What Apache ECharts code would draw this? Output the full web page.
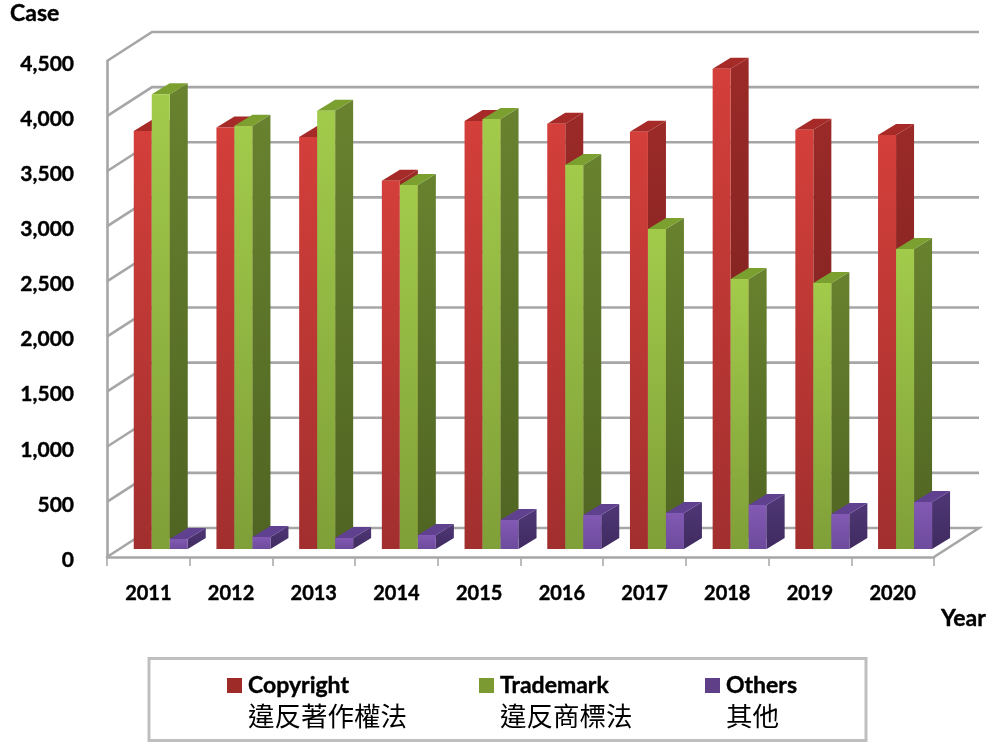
<!DOCTYPE html>
<html><head><meta charset="utf-8">
<style>html,body{margin:0;padding:0;background:#fff}#c{width:990px;height:742px}</style>
<script src="https://cdn.jsdelivr.net/npm/echarts@6/dist/echarts.min.js"></script>
</head><body><div id="c"></div>
<script>
const years = ['2011','2012','2013','2014','2015','2016','2017','2018','2019','2020'];
const copyright = [3793,3823,3738,3340,3884,3857,3785,4356,3803,3757];
const trademark = [4125,3841,3975,3303,3902,3485,2904,2450,2414,2722];
const others = [90,109,100,127,263,308,327,399,318,426];
const yTicks = [0,500,1000,1500,2000,2500,3000,3500,4000,4500];
const names = ['Copyright','Trademark','Others'];
const zhNames = ['違反著作權法','違反商標法','其他'];
const legendLefts = [227,479,705];

const FONT = 'Lato, "Noto Sans", sans-serif';
const CJK = '"Noto Sans CJK TC", sans-serif';
const WALL = [45,-29], BAR_DEPTH = [18,-11], BAR_INSET = [12.4,-8], BAR_W = 18;
const GRID = '#a6a6a6';
const HEAVY = {textBorderColor:'#000',textBorderWidth:0.4};
const grad = (a,b)=>({type:'linear',x:0,y:0,x2:0,y2:1,colorStops:[{offset:0,color:a},{offset:1,color:b}]});

function wallItem(params, api){
  const cs = params.coordSys, v = api.value(1);
  const y = api.coord([0,v])[1], x = cs.x, r = cs.x+cs.width;
  const pts = [[x,y],[x+WALL[0],y+WALL[1]],[r+WALL[0],y+WALL[1]]];
  if (v===0) pts.push([r,y]);
  return {type:'polyline',shape:{points:pts},style:{fill:null,stroke:GRID,lineWidth:2.6}};
}
function barSeries(name,vals,slot,col){
  return {
    name, type:'custom', coordinateSystem:'cartesian2d', data:vals.map((v,i)=>[i,v]),
    encode:{x:0,y:1}, itemStyle:{color:col.legend}, z:3,
    renderItem(params,api){
      const c = api.coord([api.value(0),api.value(1)]);
      const base = api.coord([api.value(0),0]);
      const xl = c[0]+BAR_INSET[0]+(slot-1.5)*BAR_W, xr = xl+BAR_W;
      const yt = c[1]+BAR_INSET[1], yb = base[1]+BAR_INSET[1];
      const dx = BAR_DEPTH[0], dy = BAR_DEPTH[1];
      return {type:'group',children:[
        {type:'polygon',shape:{points:[[xr,yt],[xr+dx,yt+dy],[xr+dx,yb+dy],[xr,yb]]},style:{fill:grad(col.side[0],col.side[1])}},
        {type:'polygon',shape:{points:[[xl,yt],[xl+dx,yt+dy],[xr+dx,yt+dy],[xr,yt]]},style:{fill:col.top}},
        {type:'rect',shape:{x:xl,y:yt,width:BAR_W,height:yb-yt},style:{fill:grad(col.front[0],col.front[1])}}
      ]};
    }
  };
}
const rich = {
  a:Object.assign({fontFamily:FONT,fontWeight:'bold',fontSize:23,color:'#000',height:30,align:'left'},HEAVY),
  b:{fontFamily:CJK,fontSize:26.5,color:'#000',height:30,align:'left'}
};
const chart = echarts.init(document.getElementById('c'),null,{renderer:'canvas'});
chart.setOption({
  animation:false, backgroundColor:'#fff',
  graphic:[{type:'rect',z:0,silent:true,shape:{x:149,y:658.5,width:717,height:82},style:{fill:'#fff',stroke:'#bfbfbf',lineWidth:3}}],
  grid:{left:107,right:56,top:61,bottom:185,containLabel:false},
  xAxis:{type:'category',data:years,boundaryGap:true,name:'Year',nameLocation:'end',nameGap:7,
    nameTextStyle:Object.assign({fontFamily:FONT,fontWeight:'bold',fontSize:23,color:'#000',padding:[50,0,0,0],verticalAlign:'top'},HEAVY),
    axisLine:{lineStyle:{color:GRID,width:2.6}},
    axisTick:{show:true,alignWithLabel:false,length:9,lineStyle:{color:GRID,width:1.5}},
    axisLabel:Object.assign({fontFamily:FONT,fontWeight:'bold',fontSize:20,color:'#000',margin:27},HEAVY)},
  yAxis:{type:'value',min:0,max:4500,interval:500,name:'Case',nameLocation:'end',nameGap:36,
    nameTextStyle:Object.assign({fontFamily:FONT,fontWeight:'bold',fontSize:23,color:'#000',align:'left',padding:[0,0,0,-97]},HEAVY),
    axisLine:{show:true,lineStyle:{color:GRID,width:2.6}},axisTick:{show:false},splitLine:{show:false},
    axisLabel:{margin:33,
      formatter:v=>'{t|'+v.toLocaleString('en-US')+'}',
      rich:{t:Object.assign({fontFamily:FONT,fontWeight:'bold',fontSize:21,color:'#000',padding:[6,0,0,0]},HEAVY)}}},
  legend:names.map((n,i)=>({left:legendLefts[i],top:670,padding:0,itemWidth:16,itemHeight:62,
    icon:'path://M0,8H15V23H0Z M0,0L0,0 M16,62L16,62Z',selectedMode:false,
    formatter:()=>'{a|'+n+'}\n{b|'+zhNames[i]+'}',
    textStyle:{rich},data:[n]})),
  series:[
    {type:'custom',coordinateSystem:'cartesian2d',data:yTicks.map(v=>[0,v]),encode:{x:0,y:1},renderItem:wallItem,z:1,silent:true},
    barSeries('Copyright',copyright,0,{legend:'#9e2b28',front:['#d43f3a','#a12f2e'],side:['#9b2a28','#6f1f1d'],top:'#a62a27'}),
    barSeries('Trademark',trademark,1,{legend:'#7b9a32',front:['#a2cb4b','#7f9f38'],side:['#68822f','#4f6422'],top:'#7ca030'}),
    barSeries('Others',others,2,{legend:'#5f3f87',front:['#8259b4','#6d4b9c'],side:['#4f3776','#3f2b60'],top:'#5f4190'})
  ]
});
</script></body></html>
